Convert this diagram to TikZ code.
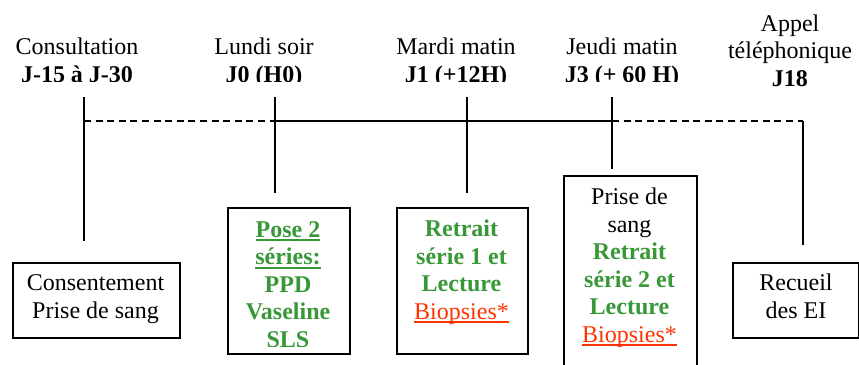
\documentclass[tikz,border=0pt]{standalone}
\usepackage{fontspec}
\setmainfont{Liberation Serif}
\definecolor{grn}{RGB}{56,152,56}
\definecolor{rd}{RGB}{255,51,0}
\newcommand\myul[1]{\setbox0\hbox{#1}\rlap{\rule[-2pt]{\wd0}{0.9pt}}\box0}
\newcommand\G[1]{\textcolor{grn}{\textbf{#1}}}
\newcommand\R[1]{\textcolor{rd}{\myul{#1}}}
\tikzset{
  lbl/.style={font=\fontsize{12}{13.75}\selectfont, align=center, anchor=base, inner sep=0pt},
  boxn/.style={draw, line width=0.9pt, anchor=north west, inner sep=0pt},
  conn/.style={line width=0.9pt},
  dashconn/.style={line width=0.9pt, dash pattern=on 3.5pt off 2.3pt}
}
\begin{document}
\begin{tikzpicture}[x=0.5pt,y=-0.5pt]
\useasboundingbox (0,0) rectangle (859,365);
\clip (0,0) rectangle (859,365);
% top labels (anchor = baseline of last line)
\begin{scope}
\clip (0,0) rectangle (859,81.5);
\node[lbl] (l1) at (77,82) {Consultation\\\textbf{J-15 à J-30}};
\node[lbl] (l2) at (264,82) {Lundi soir\\\textbf{J0 (H0)}};
\node[lbl] (l3) at (456,82) {Mardi matin\\\textbf{J1 (+12H)}};
\node[lbl] (l4) at (622,82) {Jeudi matin\\\textbf{J3 (+ 60 H)}};
\end{scope}
\node[lbl] (l5) at (790,86) {Appel\\téléphonique\\\textbf{J18}};
% boxes
\node[boxn, minimum width=83.5pt, minimum height=37.5pt] (b1) at (12,262) {};
\node[boxn, minimum width=61pt, minimum height=73pt] (b2) at (227,207) {};
\node[boxn, minimum width=65.5pt, minimum height=73pt] (b3) at (396,207) {};
\node[boxn, minimum width=66.5pt, minimum height=100pt] (b4) at (563,175) {};
\node[boxn, minimum width=63pt, minimum height=37.5pt] (b5) at (732,262) {};
% box texts
\node[lbl] (t1) at (95.5,318) {Consentement\\Prise de sang};
\begin{scope}
\clip (0,0) rectangle (859,346.5);
\node[lbl] (t2) at (288,347) {\G{\myul{Pose 2}}\\\G{\myul{séries:}}\\\G{PPD}\\\G{Vaseline}\\\G{SLS}};
\end{scope}
\node[lbl] (t3) at (461.5,319) {\G{Retrait}\\\G{série 1 et}\\\G{Lecture}\\\R{Biopsies*}};
\node[lbl] (t4) at (629.5,342) {Prise de\\sang\\\G{Retrait}\\\G{série 2 et}\\\G{Lecture}\\\R{Biopsies*}};
\node[lbl] (t5) at (796,318) {Recueil\\des EI};
% connectors
\coordinate (v1a) at (84,97);  \coordinate (v1b) at (84,241);
\coordinate (v2a) at (275,97); \coordinate (v2b) at (275,193);
\coordinate (v3a) at (467,97); \coordinate (v3b) at (467,193);
\coordinate (v4a) at (612,97); \coordinate (v4b) at (612,169);
\coordinate (v5a) at (803,121); \coordinate (v5b) at (803,245);
\coordinate (h1) at (84,121);
\coordinate (h2) at (275,121);
\coordinate (h4) at (612,121);
\draw[conn] (v1a) -- (v1b);
\draw[conn] (v2a) -- (v2b);
\draw[conn] (v3a) -- (v3b);
\draw[conn] (v4a) -- (v4b);
\draw[conn] (v5a) -- (v5b);
\draw[dashconn] (h1) -- (h2);
\draw[conn] (h2) -- (h4);
\draw[dashconn] (h4) -- (v5a);
\end{tikzpicture}
\end{document}
